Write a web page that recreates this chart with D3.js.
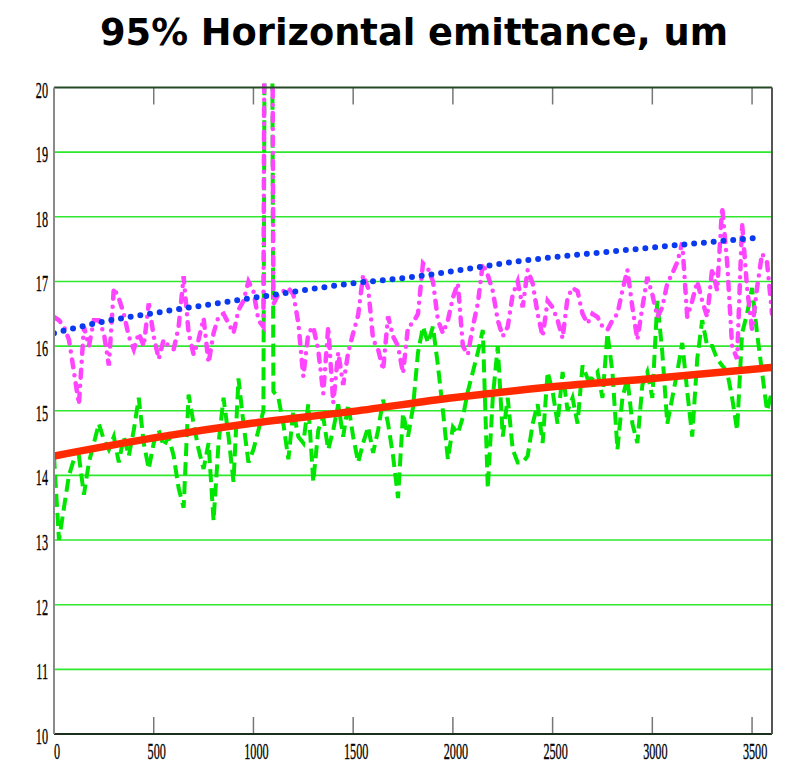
<!DOCTYPE html>
<html>
<head>
<meta charset="utf-8">
<script src="https://d3js.org/d3.v7.min.js"></script>
<style>
  body { margin: 0; background: #fff; }
  .title { font-family: "DejaVu Sans", sans-serif; font-weight: bold; }
  .tick-label { font-family: "Liberation Serif", "Times New Roman", serif; fill: #000; stroke: #000; stroke-width: 0.35; }
</style>
</head>
<body>
<script>
// 95% horizontal emittance vs turn number

var xStep = 25;

var greenVals = [
  14.3, 13.0, 13.5, 14.0, 14.25, 14.3, 13.7, 14.2, 14.5, 14.8,
  14.55, 14.4, 14.6, 14.2, 14.6, 14.3, 14.7, 15.2, 14.5, 14.1,
  14.5, 14.7, 14.45, 14.6, 14.3, 13.8, 13.5, 15.25, 14.8, 14.4,
  14.1, 14.5, 13.3, 14.5, 15.2, 14.6, 13.9, 15.5, 14.8, 14.2,
  14.4, 14.7, 15.0, 40, 15.3, 15.2, 14.8, 14.25, 15.0, 14.6,
  14.5, 15.1, 13.9, 14.7, 14.9, 14.4, 14.7, 15.1, 14.6, 15.1,
  14.6, 14.2, 14.5, 14.75, 14.35, 14.7, 15.17, 14.8, 14.3, 13.65,
  14.96, 14.6, 15.05, 15.9, 16.3, 16.05, 16.3, 15.7, 15.0, 14.25,
  14.75, 14.65, 14.9, 15.3, 15.6, 15.9, 16.25, 13.8, 15.2, 16.0,
  14.6, 15.2, 14.4, 14.2, 14.2, 14.3, 14.8, 15.1, 14.5, 15.6,
  15.3, 14.8, 15.6, 15.0, 15.2, 14.8, 15.7, 15.5, 15.5, 15.6,
  15.2, 16.2, 15.6, 14.4, 15.2, 15.5, 14.8, 14.5, 15.4, 15.6,
  15.2, 16.7, 15.9, 14.8, 15.2, 15.6, 16.05, 15.3, 14.6, 15.8,
  16.4, 16.0, 16.0, 15.8, 15.7, 15.6, 15.2, 14.7, 16.2, 16.5,
  16.9, 16.2, 15.6, 15.0, 15.3
];

var magentaVals = [
  16.45, 16.4, 16.3, 16.1, 15.6, 15.1, 16.3, 16.0, 16.4, 16.4,
  16.2, 15.7, 16.9, 16.74, 16.5, 16.15, 15.95, 16.2, 16.0, 16.66,
  16.15, 15.8, 16.1, 16.0, 15.95, 16.3, 17.08, 16.2, 15.87, 16.1,
  16.43, 15.74, 16.2, 16.46, 16.5, 16.35, 16.2, 16.56, 16.7, 17.0,
  16.85, 16.4, 16.3, 40, 16.65, 16.8, 16.85, 16.9, 16.8, 16.36,
  15.53, 16.2, 16.3, 15.94, 15.27, 16.3, 15.12, 15.9, 15.4, 15.9,
  16.2, 16.48, 17.1, 16.9, 16.1, 15.95, 15.63, 16.46, 16.15, 16.0,
  15.58, 16.3, 16.36, 16.5, 17.28, 17.2, 17.0, 16.4, 16.2, 16.4,
  16.75, 16.97, 16.0, 15.87, 16.3, 16.66, 17.28, 17.1, 16.85, 16.4,
  16.15, 16.3, 16.8, 17.0, 16.6, 17.18, 16.97, 16.5, 16.15, 16.7,
  16.6, 16.4, 16.12, 16.75, 16.9, 16.85, 16.5, 16.35, 16.5, 16.45,
  16.3, 16.25, 16.4, 16.5, 16.86, 17.18, 16.6, 16.1, 16.6, 17.07,
  16.8, 16.45, 16.6, 16.97, 17.12, 17.3, 17.6, 16.45, 16.7, 17.0,
  16.7, 16.45, 17.2, 16.86, 18.15, 17.3, 16.0, 15.8, 17.9, 16.9,
  16.25, 16.9, 17.43, 17.3, 16.5
];

var redX = [0, 500, 1000, 1500, 2000, 2500, 3000, 3600];
var redVals = [14.3, 14.58, 14.81, 14.99, 15.2, 15.37, 15.5, 15.67];

var blueX = [0, 250, 500, 900, 1180, 1520, 1720, 2350, 2950, 3540];
var blueVals = [16.2, 16.38, 16.51, 16.7, 16.83, 16.98, 17.04, 17.32, 17.51, 17.68];

var xTicks = [0, 500, 1000, 1500, 2000, 2500, 3000, 3500];
var yTicks = [10, 11, 12, 13, 14, 15, 16, 17, 18, 19, 20];
var titleText = "95% Horizontal emittance, um";

var margin = {top: 87.5, right: 15, bottom: 33, left: 54};
var width = 787 - margin.left - margin.right;
var height = 767 - margin.top - margin.bottom;

var x = d3.scaleLinear().domain([0, 3600]).range([0, width]);
var y = d3.scaleLinear().domain([10, 20]).range([height, 0]);

var svg = d3.select("body").append("svg")
    .attr("width", 787)
    .attr("height", 767);

svg.append("text")
    .attr("class", "title")
    .attr("x", 100)
    .attr("y", 45)
    .attr("font-size", 38)
    .attr("textLength", 628)
    .attr("lengthAdjust", "spacingAndGlyphs")
    .text(titleText);

var g = svg.append("g")
    .attr("transform", "translate(" + margin.left + "," + margin.top + ")");

g.append("clipPath")
    .attr("id", "clip")
  .append("rect")
    .attr("y", -4)
    .attr("width", width)
    .attr("height", height + 4);

// horizontal green grid
g.append("g").selectAll("line")
    .data(yTicks.filter(function(d) { return d > 10 && d < 20; }))
  .enter().append("line")
    .attr("x1", 0)
    .attr("x2", width)
    .attr("y1", function(d) { return y(d); })
    .attr("y2", function(d) { return y(d); })
    .attr("stroke", "#2ee82e")
    .attr("stroke-width", 1.6);

// inward tick marks on top and bottom
var innerTicks = xTicks.filter(function(d) { return d > 0; });
g.append("g").selectAll("line")
    .data(innerTicks)
  .enter().append("line")
    .attr("x1", function(d) { return x(d); })
    .attr("x2", function(d) { return x(d); })
    .attr("y1", 0)
    .attr("y2", 17)
    .attr("stroke", "#777")
    .attr("stroke-width", 1.5);
g.append("g").selectAll("line")
    .data(innerTicks)
  .enter().append("line")
    .attr("x1", function(d) { return x(d); })
    .attr("x2", function(d) { return x(d); })
    .attr("y1", height - 17)
    .attr("y2", height)
    .attr("stroke", "#777")
    .attr("stroke-width", 1.5);

var stepLine = d3.line()
    .x(function(d, i) { return x(i * xStep); })
    .y(function(d) { return y(d); });

var xyLine = function(xs) {
  return d3.line()
    .x(function(d, i) { return x(xs[i]); })
    .y(function(d) { return y(d); })
    .curve(d3.curveMonotoneX);
};

var plot = g.append("g").attr("clip-path", "url(#clip)");

plot.append("path")
    .datum(greenVals)
    .attr("d", stepLine)
    .attr("fill", "none")
    .attr("stroke", "#00e600")
    .attr("stroke-width", 4)
    .attr("stroke-dasharray", "13,6");

plot.append("path")
    .datum(magentaVals)
    .attr("d", stepLine)
    .attr("fill", "none")
    .attr("stroke", "#ff44ff")
    .attr("stroke-width", 4.5)
    .attr("stroke-linecap", "round")
    .attr("stroke-dasharray", "8,8,0,8");

plot.append("path")
    .datum(redVals)
    .attr("d", xyLine(redX))
    .attr("fill", "none")
    .attr("stroke", "#ff2a00")
    .attr("stroke-width", 7.5);

plot.append("path")
    .datum(blueVals)
    .attr("d", xyLine(blueX))
    .attr("fill", "none")
    .attr("stroke", "#0a3af0")
    .attr("stroke-width", 6)
    .attr("stroke-linecap", "round")
    .attr("stroke-dasharray", "0,9.8");

// frame
g.append("line").attr("x1", 0).attr("x2", width).attr("y1", 0).attr("y2", 0)
    .attr("stroke", "#244a24").attr("stroke-width", 2);
g.append("line").attr("x1", 0).attr("x2", width).attr("y1", height).attr("y2", height)
    .attr("stroke", "#1c2e1c").attr("stroke-width", 2);
g.append("line").attr("x1", 0).attr("x2", 0).attr("y1", 0).attr("y2", height)
    .attr("stroke", "#8a8a8a").attr("stroke-width", 2);
g.append("line").attr("x1", width).attr("x2", width).attr("y1", 0).attr("y2", height)
    .attr("stroke", "#555").attr("stroke-width", 2);

// tick labels, narrow serif (squeezed horizontally)
g.append("g").selectAll("text")
    .data(yTicks)
  .enter().append("text")
    .attr("class", "tick-label")
    .attr("transform", function(d) { return "translate(-6," + (y(d) + 10) + ") scale(0.53,1)"; })
    .attr("font-size", 23)
    .attr("text-anchor", "end")
    .text(function(d) { return d; });

g.append("g").selectAll("text")
    .data(xTicks)
  .enter().append("text")
    .attr("class", "tick-label")
    .attr("transform", function(d) { return "translate(" + (x(d) + 3) + "," + (height + 25) + ") scale(0.53,1)"; })
    .attr("font-size", 23)
    .attr("text-anchor", "middle")
    .text(function(d) { return d; });
</script>
</body>
</html>
